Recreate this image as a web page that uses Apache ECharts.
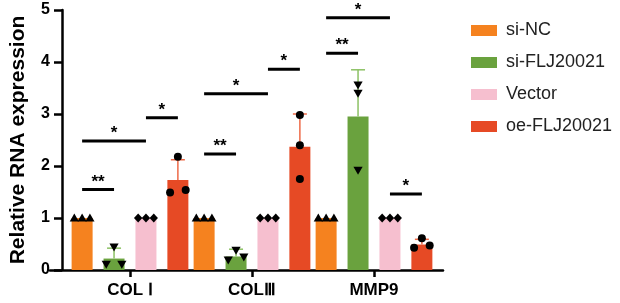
<!DOCTYPE html>
<html><head><meta charset="utf-8">
<script src="https://cdn.jsdelivr.net/npm/echarts@6/dist/echarts.min.js"></script>
<style>html,body{margin:0;padding:0;background:#fff}#c{width:620px;height:303px}</style>
</head><body><div id="c"></div>
<script>
// ---- data ----
const categories = ['COL Ⅰ', 'COLⅢ', 'MMP9'];
const groups = ['si-NC', 'si-FLJ20021', 'Vector', 'oe-FLJ20021'];
const meanSiNC   = [1, 1, 1];
const meanSiFLJ  = [0.22, 0.26, 2.95];
const meanVector = [1, 1, 1];
const meanOeFLJ  = [1.73, 2.37, 0.49];
const sdSiNC   = [0, 0, 0];
const sdSiFLJ  = [0.20, 0.14, 0.90];
const sdVector = [0, 0, 0];
const sdOeFLJ  = [0.39, 0.63, 0.10];
const ptsSiNC   = [[1, 1, 1], [1, 1, 1], [1, 1, 1]];
const ptsSiFLJ  = [[0.44, 0.11, 0.11], [0.19, 0.38, 0.25], [3.56, 3.40, 1.92]];
const ptsVector = [[1, 1, 1], [1, 1, 1], [1, 1, 1]];
const ptsOeFLJ  = [[2.18, 1.49, 1.54], [2.98, 2.40, 1.75], [0.43, 0.61, 0.47]];
const yTicks = [0, 1, 2, 3, 4, 5];
// significance brackets: category, from group, to group, height, label
const sigCat   = [0, 0, 0, 1, 1, 1, 2, 2, 2];
const sigFrom  = [0, 0, 2, 0, 0, 2, 0, 0, 2];
const sigTo    = [1, 2, 3, 1, 2, 3, 1, 2, 3];
const sigY     = [1.55, 2.48, 2.93, 2.23, 3.39, 3.86, 4.17, 4.85, 1.46];
const sigLabel = ['**', '*', '*', '**', '*', '*', '**', '*', '*'];

// ---- style ----
const FONT = "'Liberation Sans', Arial, sans-serif";
const colors = ['#F5821F', '#6AA23E', '#F6BFCF', '#E64A25'];
const errColors = ['#F5821F', '#8CC164', '#F6BFCF', '#EE6A48'];
const markerShapes = ['triUp', 'triDown', 'diamond', 'circle'];
const BAR_W = 21, BAR_GAP = '52%';

const means = [meanSiNC, meanSiFLJ, meanVector, meanOeFLJ];
const sds = [sdSiNC, sdSiFLJ, sdVector, sdOeFLJ];
const pts = [ptsSiNC, ptsSiFLJ, ptsVector, ptsOeFLJ];

function barOffsets(api) {
  try {
    const l = api.barLayout({count: 4, barWidth: BAR_W, barGap: BAR_GAP});
    if (l && l.length === 4) return l.map(d => d.offsetCenter);
  } catch (e) {}
  return [0, 1, 2, 3].map(i => (i - 1.5) * BAR_W * 1.52);
}

function marker(kind, x, y) {
  const st = {fill: '#000'};
  if (kind === 'circle') return {type: 'circle', shape: {cx: x, cy: y, r: 4}, style: st};
  let p;
  if (kind === 'triUp') p = [[x, y - 4.5], [x + 4.6, y + 3.5], [x - 4.6, y + 3.5]];
  else if (kind === 'triDown') p = [[x - 4.6, y - 3.5], [x + 4.6, y - 3.5], [x, y + 4.5]];
  else p = [[x, y - 4.5], [x + 4.2, y], [x, y + 4.5], [x - 4.2, y]];
  return {type: 'polygon', shape: {points: p}, style: st};
}

function groupRenderer(s) {
  return function (params, api) {
    const cat = api.value(0), mean = api.value(1), sd = api.value(2);
    const off = barOffsets(api)[s];
    const base = api.coord([cat, mean]);
    const cx = base[0] + off;
    const children = [];
    if (sd > 0) {
      const top = api.coord([cat, mean + sd])[1];
      const ls = {stroke: errColors[s], lineWidth: 1.5};
      children.push({type: 'line', shape: {x1: cx, y1: base[1], x2: cx, y2: top}, style: ls});
      children.push({type: 'line', shape: {x1: cx - 7, y1: top, x2: cx + 7, y2: top}, style: ls});
    }
    const vals = pts[s][cat];
    const ys = vals.map(v => api.coord([cat, v])[1]);
    let overlap = false;
    for (let a = 0; a < ys.length; a++) for (let b = a + 1; b < ys.length; b++)
      if (Math.abs(ys[a] - ys[b]) < 7) overlap = true;
    const slot = vals.map(() => 0);
    if (overlap) {
      const order = vals.map((v, k) => k).sort((a, b) => vals[a] - vals[b] || a - b);
      const slotsSorted = [-1, 1, 0];
      order.forEach((k, r) => { slot[k] = slotsSorted[r]; });
    }
    vals.forEach((v, k) => children.push(marker(markerShapes[s], cx + slot[k] * 7.8, ys[k])));
    return {type: 'group', children};
  };
}

function sigRenderer(params, api) {
  const i = params.dataIndex;
  const offs = barOffsets(api);
  const c = api.coord([sigCat[i], sigY[i]]);
  const x1 = c[0] + offs[sigFrom[i]], x2 = c[0] + offs[sigTo[i]];
  return {type: 'group', children: [
    {type: 'line', shape: {x1: x1, y1: c[1], x2: x2, y2: c[1]}, style: {stroke: '#000', lineWidth: 3}},
    {type: 'text', style: {text: sigLabel[i], x: (x1 + x2) / 2, y: c[1] + 1, align: 'center', verticalAlign: 'bottom',
      font: "bold 17px " + FONT, fill: '#000'}}
  ]};
}

const series = [];
groups.forEach((g, s) => {
  series.push({name: g, type: 'bar', xAxisIndex: 0, yAxisIndex: 0, barWidth: BAR_W, barGap: BAR_GAP,
    itemStyle: {color: colors[s]}, data: means[s], z: 2});
});
groups.forEach((g, s) => {
  series.push({name: 'pts_' + s, type: 'custom', xAxisIndex: 0, yAxisIndex: 0, z: 3,
    renderItem: groupRenderer(s),
    data: categories.map((c, k) => [k, means[s][k], sds[s][k]])});
});
series.push({name: 'sig', type: 'custom', xAxisIndex: 0, yAxisIndex: 0, z: 4, clip: false,
  renderItem: sigRenderer, data: sigCat.map((c, i) => [c, sigY[i]])});

const chart = echarts.init(document.getElementById('c'), null, {renderer: 'canvas'});
chart.setOption({
  animation: false,
  backgroundColor: '#fff',
  textStyle: {fontFamily: FONT},
  grid: [
    {left: 57, right: 185, top: 10, bottom: 33},
    {left: 50, right: 177, top: 10, bottom: 33}
  ],
  legend: {
    orient: 'vertical', left: 466, top: 16, itemWidth: 26, itemHeight: 11, itemGap: 13,
    icon: 'rect', data: groups, selectedMode: false,
    textStyle: {fontSize: 18, color: '#222', fontFamily: FONT, padding: [0, 0, 0, 4], lineHeight: 19}
  },
  xAxis: [
    {type: 'category', gridIndex: 0, data: categories,
      axisLine: {show: false},
      axisTick: {show: true, alignWithLabel: true, length: 7, lineStyle: {color: '#000', width: 2.5}},
      axisLabel: {fontSize: 17, fontWeight: 'bold', color: '#000', margin: 12, fontFamily: FONT}},
    {type: 'category', gridIndex: 1, data: [''],
      axisLine: {show: true, lineStyle: {color: '#000', width: 2.5}},
      axisTick: {show: false}, axisLabel: {show: false}}
  ],
  yAxis: [
    {type: 'value', gridIndex: 0, min: yTicks[0], max: yTicks[yTicks.length - 1], interval: 1, offset: 7,
      name: 'Relative RNA expression', nameLocation: 'middle', nameGap: 33,
      nameTextStyle: {fontSize: 21, fontWeight: 'bold', color: '#000', fontFamily: FONT},
      axisLine: {show: true, lineStyle: {color: '#000', width: 2.5}},
      axisTick: {show: true, length: 8, lineStyle: {color: '#000', width: 2.5}},
      splitLine: {show: false},
      axisLabel: {fontSize: 16, fontWeight: 'bold', color: '#000', margin: 12, fontFamily: FONT}},
    {type: 'value', gridIndex: 1, show: false, min: 0, max: 5}
  ],
  series: series
});
</script></body></html>
